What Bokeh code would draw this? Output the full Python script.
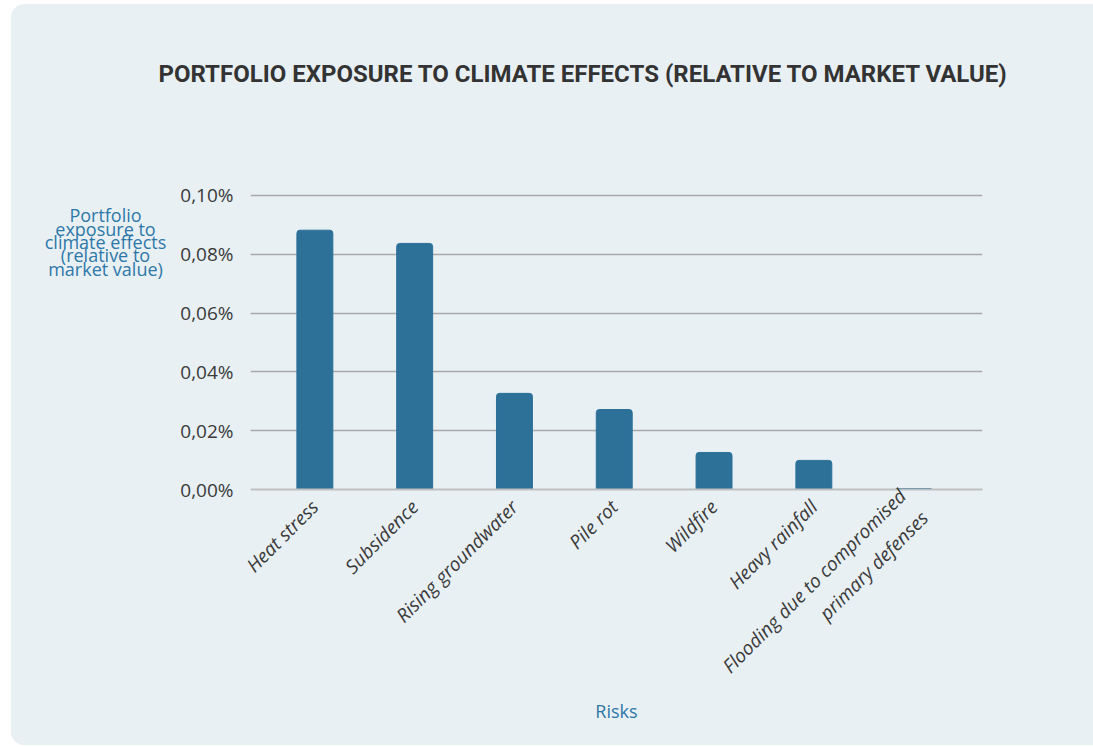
import math
from bokeh.plotting import figure
from bokeh.layouts import column, row
from bokeh.models import Range1d, FixedTicker, Label
from bokeh.embed import file_html
from bokeh.resources import INLINE

title_text = "PORTFOLIO EXPOSURE TO CLIMATE EFFECTS (RELATIVE TO MARKET VALUE)"
y_label_lines = ["Portfolio", "exposure to", "climate effects", "(relative to", "market value)"]
x_label_text = "Risks"

categories = [
    "Heat stress",
    "Subsidence",
    "Rising groundwater",
    "Pile rot",
    "Wildfire",
    "Heavy rainfall",
    "Flooding due to compromised\nprimary defenses",
]
exposure = [0.0882, 0.0837, 0.0327, 0.0272, 0.0126, 0.0099, 0.0003]

y_ticks = [0.0, 0.02, 0.04, 0.06, 0.08, 0.10]
y_tick_labels = ["0,00%", "0,02%", "0,04%", "0,06%", "0,08%", "0,10%"]

PANEL = "#E8F0F4"
BLUE_TEXT = "#2E78A8"
BAR = "#2D7199"


def text_panel(w, h):
    f = figure(width=w, height=h, x_range=Range1d(0, w), y_range=Range1d(0, h),
               output_backend="svg", toolbar_location=None,
               x_axis_location=None, y_axis_location=None,
               min_border=0)
    f.margin = (0, 0, 0, 0)
    f.grid.visible = False
    f.outline_line_color = None
    f.background_fill_color = PANEL
    f.border_fill_color = PANEL
    return f


# ---- title strip (page y 4..140) ----
pt = text_panel(1082, 136)
pt.add_layout(Label(x=572, y=67, text=title_text, text_font="Roboto",
                    text_font_style="bold", text_font_size="24px",
                    text_color="#333333", text_align="center",
                    text_baseline="middle"))

# ---- y label strip (page x 11..177, y 140..745) ----
STRIP_H = 605
pl = text_panel(166, STRIP_H)
first_line_y = STRIP_H - 50   # page y ~190
line_step = 27
for i, line in enumerate(y_label_lines):
    pl.add_layout(Label(x=94, y=first_line_y - i * line_step, text=line,
                        text_font="Open Sans", text_font_size="18px",
                        text_color=BLUE_TEXT, text_align="center",
                        text_baseline="middle"))

# ---- main chart (page x 177..1093, y 140..745) ----
positions = list(range(len(categories)))
p = figure(
    width=916, height=STRIP_H,
    x_range=Range1d(-0.645, 6.69),
    y_range=Range1d(0, 0.1017),
    output_backend="svg", toolbar_location=None,
    min_border_left=65, min_border_right=111,
    min_border_top=50, min_border_bottom=256,
)
p.margin = (0, 0, 0, 0)
p.background_fill_color = PANEL
p.border_fill_color = PANEL
p.outline_line_color = None

p.vbar(x=positions, top=exposure, width=0.36, bottom=0,
       fill_color=BAR, line_color=BAR, border_radius=(3, 3, 0, 0))

p.xgrid.visible = False
p.ygrid.ticker = FixedTicker(ticks=y_ticks[1:])
p.ygrid.grid_line_color = "#A8A8A8"
p.ygrid.grid_line_width = 1.5

p.yaxis.ticker = FixedTicker(ticks=y_ticks)
p.yaxis.major_label_overrides = {t: l for t, l in zip(y_ticks, y_tick_labels)}
p.yaxis.axis_line_color = None
p.yaxis.major_tick_line_color = None
p.yaxis.minor_tick_line_color = None
p.yaxis.major_label_text_font = "Open Sans"
p.yaxis.major_label_text_font_size = "19px"
p.yaxis.major_label_text_color = "#3A3A3A"
p.yaxis.major_label_standoff = 11

p.xaxis.ticker = FixedTicker(ticks=positions)
p.xaxis.major_label_overrides = {i: c for i, c in zip(positions, categories)}
p.xaxis.major_label_orientation = math.pi / 4
p.xaxis.axis_line_color = "#BFBFBF"
p.xaxis.axis_line_width = 2
p.xaxis.major_tick_line_color = None
p.xaxis.minor_tick_line_color = None
p.xaxis.major_label_text_font = "Open Sans"
p.xaxis.major_label_text_font_style = "italic"
p.xaxis.major_label_text_font_size = "19px"
p.xaxis.major_label_text_color = "#3A3A3A"
p.xaxis.major_label_standoff = 8
p.xaxis.axis_label = x_label_text
p.xaxis.axis_label_text_font = "Open Sans"
p.xaxis.axis_label_text_font_style = "normal"
p.xaxis.axis_label_text_font_size = "18px"
p.xaxis.axis_label_text_color = BLUE_TEXT
p.xaxis.axis_label_standoff = -25

body = row(pl, p, spacing=0)
body.margin = (0, 0, 0, 0)
body.styles = {"background-color": PANEL}
layout = column(pt, body, spacing=0)
layout.margin = (4, 0, 0, 11)
layout.styles = {"background-color": PANEL, "border-radius": "14px 0 0 14px",
                 "overflow": "hidden"}
open("out.html", "w").write(file_html(layout, INLINE))
